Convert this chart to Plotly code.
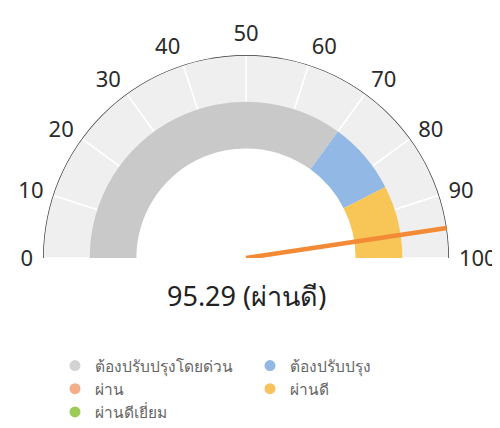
import plotly.graph_objects as go

# ---- data ----
score = 95.29
score_label = "95.29 (ผ่านดี)"
tick_values = [0, 10, 20, 30, 40, 50, 60, 70, 80, 90, 100]
tick_labels = ["0", "10", "20", "30", "40", "50", "60", "70", "80", "90", "100"]
band_names = ["ต้องปรับปรุงโดยด่วน", "ต้องปรับปรุง", "ผ่านดี"]
band_start = [0, 70, 85]
band_end = [70, 85, 100]
legend_col1 = ["ต้องปรับปรุงโดยด่วน", "ผ่าน", "ผ่านดีเยี่ยม"]
legend_col2 = ["ต้องปรับปรุง", "ผ่านดี"]
colors = {
    "ต้องปรับปรุงโดยด่วน": "#c9c9c9",
    "ต้องปรับปรุง": "#92b9e6",
    "ผ่าน": "#f3ab86",
    "ผ่านดี": "#f8c557",
    "ผ่านดีเยี่ยม": "#9bcb50",
}
legend_colors = {
    "ต้องปรับปรุงโดยด่วน": "#d3d3d3",
    "ต้องปรับปรุง": "#94b8e4",
    "ผ่าน": "#f4ae8a",
    "ผ่านดี": "#f8c35e",
    "ผ่านดีเยี่ยม": "#9ccc56",
}


def ang(v):
    """gauge value (0..100, left to right) -> polar angle in degrees"""
    return 180.0 - v * 1.8


def span(a, b):
    return (b - a) * 1.8


R_IN, R_BAND, R_OUT = 0.54, 0.77, 1.0

fig = go.Figure()

# background ring, one segment per 10 units (white separators at ticks)
seg_lo = tick_values[:-1]
seg_hi = tick_values[1:]
fig.add_trace(go.Barpolar(
    theta=[ang((a + b) / 2) for a, b in zip(seg_lo, seg_hi)],
    width=[span(a, b) for a, b in zip(seg_lo, seg_hi)],
    r=[R_OUT - R_IN] * len(seg_lo),
    base=[R_IN] * len(seg_lo),
    marker=dict(color="#efefef", line=dict(color="white", width=1.5)),
    showlegend=False, hoverinfo="skip",
))

# coloured bands
for name, a, b in zip(band_names, band_start, band_end):
    fig.add_trace(go.Barpolar(
        theta=[ang((a + b) / 2)], width=[span(a, b)],
        r=[R_BAND - R_IN], base=[R_IN],
        marker=dict(color=colors[name], line=dict(width=0)),
        name=name, showlegend=False,
    ))

# outer arc (thin dark band)
fig.add_trace(go.Barpolar(
    theta=[ang(50)], width=[span(0, 100)], r=[0.007], base=[R_OUT - 0.0035],
    marker=dict(color="#333333", line=dict(width=0)),
    showlegend=False, hoverinfo="skip",
))

# needle
fig.add_trace(go.Scatterpolar(
    r=[0, R_OUT], theta=[ang(score), ang(score)], mode="lines",
    line=dict(color="#f28a36", width=4.5), showlegend=False, hoverinfo="skip",
))

# legend entries
for name in legend_col1:
    fig.add_trace(go.Scatterpolar(r=[None], theta=[0], mode="markers", name=name,
                                  marker=dict(size=11, color=legend_colors[name]), legend="legend"))
for name in legend_col2:
    fig.add_trace(go.Scatterpolar(r=[None], theta=[0], mode="markers", name=name,
                                  marker=dict(size=11, color=legend_colors[name]), legend="legend2"))

W, H = 500, 428
OFF = 8  # page body margin offset
cx, cy, rad = 246 - OFF, 258 - OFF, 203
font_family = "Noto Sans, DejaVu Sans, sans-serif"

fig.update_layout(
    width=W, height=H,
    margin=dict(l=0, r=0, t=0, b=0),
    paper_bgcolor="white",
    font=dict(family=font_family, color="#222"),
    barmode="overlay",
    polar=dict(
        domain=dict(x=[(cx - rad) / W, (cx + rad) / W], y=[1 - cy / H, 1 - (cy - rad) / H]),
        sector=[0, 180],
        bgcolor="white",
        radialaxis=dict(visible=False, range=[0, 1]),
        angularaxis=dict(
            type="linear", thetaunit="degrees",
            rotation=0, direction="counterclockwise",
            tickmode="array",
            tickvals=[ang(v) for v in tick_values], ticktext=tick_labels,
            tickfont=dict(size=22, color="#2a2a2a"),
            showline=False, showgrid=False,
            ticks="outside", ticklen=5, tickcolor="rgba(0,0,0,0)",
            showticklabels=True,
        ),
    ),
    annotations=[dict(
        text=score_label, xref="paper", yref="paper",
        x=cx / W, y=1 - (316 - OFF) / H, xanchor="center", yanchor="bottom",
        showarrow=False, font=dict(size=27, color="#222"),
    )],
    legend=dict(x=(74 - 19 - OFF) / W, y=1 - (366 - OFF - 17) / H, xanchor="left", yanchor="top",
                font=dict(size=15.5, color="#666"), bgcolor="rgba(0,0,0,0)", itemwidth=30,
                tracegroupgap=0),
    legend2=dict(x=(269 - 19 - OFF) / W, y=1 - (366 - OFF - 17) / H, xanchor="left", yanchor="top",
                 font=dict(size=15.5, color="#666"), bgcolor="rgba(0,0,0,0)", itemwidth=30,
                 tracegroupgap=0),
)

fig.write_html("out.html")
